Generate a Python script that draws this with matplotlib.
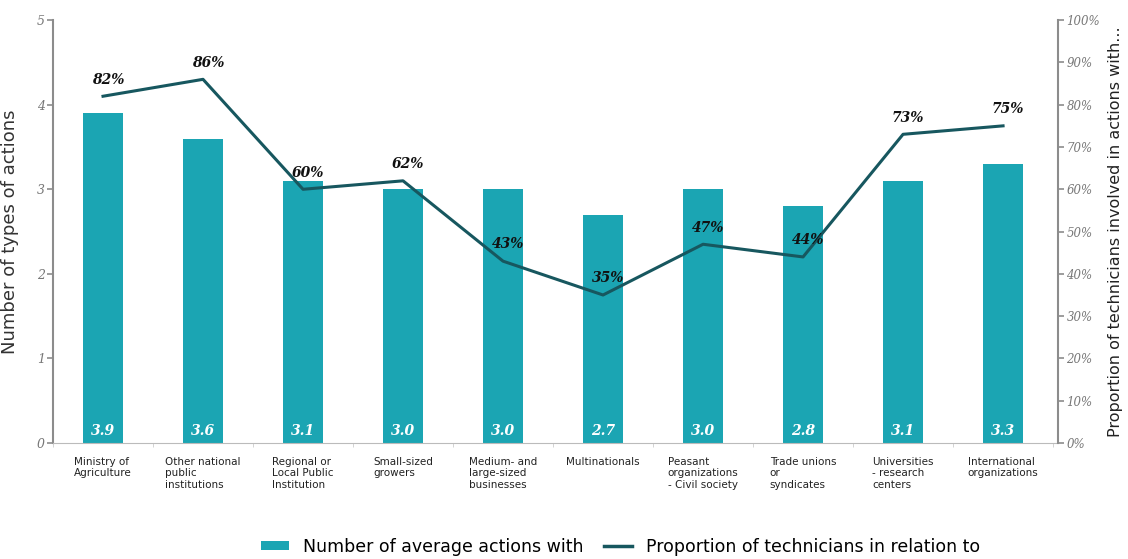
import matplotlib.pyplot as plt
import numpy as np
from matplotlib.lines import Line2D
from matplotlib.patches import Patch

CATEGORIES = [
    "Ministry of\nAgriculture",
    "Other national\npublic\ninstitutions",
    "Regional or\nLocal Public\nInstitution",
    "Small-sized\ngrowers",
    "Medium- and\nlarge-sized\nbusinesses",
    "Multinationals",
    "Peasant\norganizations\n- Civil society",
    "Trade unions\nor\nsyndicates",
    "Universities\n- research\ncenters",
    "International\norganizations",
]
ACTIONS = [3.9, 3.6, 3.1, 3.0, 3.0, 2.7, 3.0, 2.8, 3.1, 3.3]
PROPORTION = [82, 86, 60, 62, 43, 35, 47, 44, 73, 75]

BAR_COLOR = "#1ba5b3"
LINE_COLOR = "#17575f"
AXIS_GRAY = "#8c8c8c"
TICK_GRAY = "#777777"

fig = plt.figure(figsize=(11.28, 5.59), dpi=100, facecolor="white")
ax = fig.add_axes([0.047, 0.2075, 0.891, 0.7565])
ax2 = ax.twinx()

x = np.arange(len(CATEGORIES))
ax.bar(x, ACTIONS, width=0.4, color=BAR_COLOR, zorder=2)
for xx, v in zip(x, ACTIONS):
    ax.text(xx, 0.06, f"{v:.1f}", ha="center", va="bottom", color="white",
            fontsize=10, style="italic", weight="bold", family="DejaVu Serif", zorder=3)

ax2.plot(x, PROPORTION, color=LINE_COLOR, linewidth=2.2, zorder=4)
for xx, p in zip(x, PROPORTION):
    ax2.text(xx + 0.05, p + 2.3, f"{p}%", ha="center", va="bottom", color="#111111",
             fontsize=10, style="italic", weight="bold", family="DejaVu Serif", zorder=5)

ax.set_xlim(-0.5, 9.55)
ax.set_ylim(0, 5)
ax2.set_ylim(0, 100)

ax.set_yticks(range(6))
ax.set_yticklabels([str(i) for i in range(6)], fontsize=9, style="italic",
                   color=TICK_GRAY, family="DejaVu Serif")
ax2.set_yticks(range(0, 101, 10))
ax2.set_yticklabels([f"{i}%" for i in range(0, 101, 10)], fontsize=8.5, style="italic",
                    color=TICK_GRAY, family="DejaVu Serif")

ax.set_xticks(x)
ax.set_xticklabels(CATEGORIES, fontsize=7.5, color="#222222")
for lbl in ax.get_xticklabels():
    lbl.set_horizontalalignment("center")
    lbl.set_multialignment("left")
ax.tick_params(axis="x", length=0, pad=10)
ax.set_xticks(np.arange(-0.5, 10, 1), minor=True)
ax.tick_params(axis="x", which="minor", length=3, color="#cccccc")

for a in (ax, ax2):
    a.spines["top"].set_visible(False)
ax.spines["right"].set_visible(False)
ax2.spines["left"].set_visible(False)
ax2.spines["bottom"].set_visible(False)
ax.spines["left"].set_color(AXIS_GRAY)
ax.spines["bottom"].set_color("#bbbbbb")
ax2.spines["right"].set_color(AXIS_GRAY)
ax.spines["left"].set_linewidth(1.5)
ax2.spines["right"].set_linewidth(1.5)
ax.tick_params(axis="y", color=AXIS_GRAY, length=4, width=1.2, pad=2)
ax2.tick_params(axis="y", color=AXIS_GRAY, length=4, width=1.2, pad=2)

ax.set_ylabel("Number of types of actions", fontsize=13, color="#333333")
ax.yaxis.set_label_coords(-0.034, 0.5)
ax2.set_ylabel("Proportion of technicians involved in actions with...", fontsize=11.5,
               color="#222222")
ax2.yaxis.set_label_coords(1.05, 0.5)

handles = [
    Patch(facecolor=BAR_COLOR, label="Number of average actions with"),
    Line2D([0], [0], color=LINE_COLOR, linewidth=2.5, label="Proportion of technicians in relation to"),
]
fig.legend(handles=handles, loc="lower center", bbox_to_anchor=(0.55, -0.022), ncol=2,
           frameon=False, fontsize=12.5, handlelength=1.6, handleheight=0.5,
           columnspacing=1.2)

fig.savefig("out.png", dpi=100, facecolor="white")
